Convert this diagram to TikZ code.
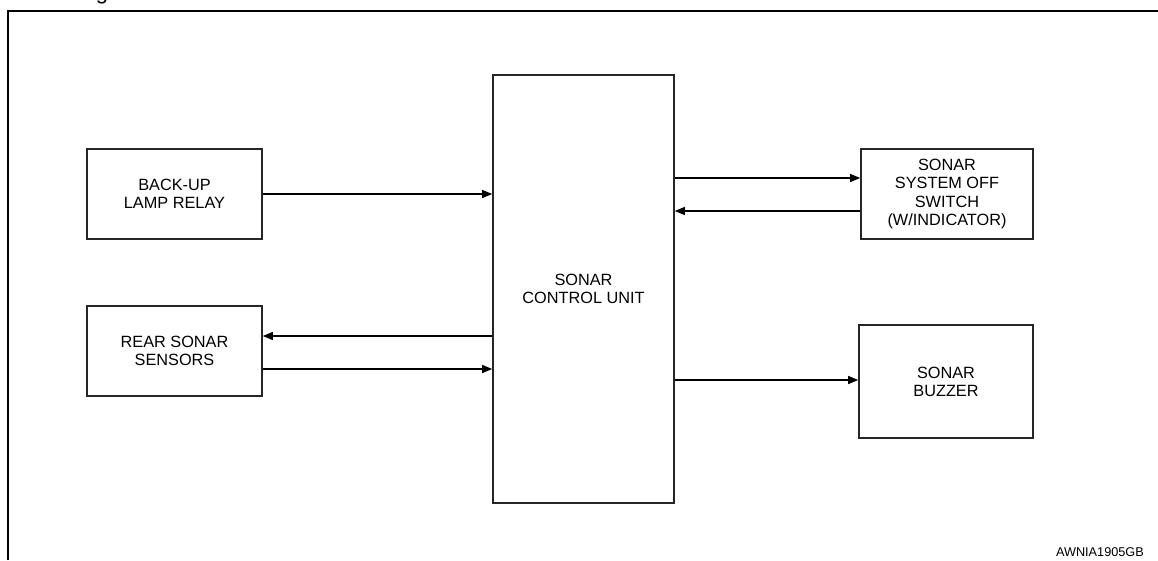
\documentclass[tikz,border=0pt]{standalone}
\usepackage{fontspec}
\setmainfont{Liberation Sans}
\usetikzlibrary{arrows.meta}
\begin{document}
\begin{tikzpicture}[x=1pt,y=-1pt,
  blk/.style={draw=black!85,line width=1.6pt,fill=white,inner sep=0pt,align=center,
    font=\fontsize{16.3}{18.2}\selectfont},
  sig/.style={line width=1.3pt,-{Triangle[length=10pt,width=8pt]}}]
\useasboundingbox (0,0) rectangle (1158,560);
% frame
\draw[line width=2.8pt] (8,560) -- (8,11) -- (1160,11);
\node[anchor=base,inner sep=0pt,font=\fontsize{22}{26}\selectfont] (title) at (102,-1) {g};
% boxes
\node[blk,minimum width=175pt,minimum height=90pt] (relay) at (174.5,194) {BACK-UP\\LAMP RELAY};
\node[blk,minimum width=175pt,minimum height=90pt] (sensors) at (174.5,351) {REAR SONAR\\SENSORS};
\node[blk,minimum width=181pt,minimum height=428pt] (ctrl) at (583.5,289) {SONAR\\CONTROL UNIT};
\node[blk,minimum width=172pt,minimum height=90pt] (switch) at (947,194) {SONAR\\SYSTEM OFF\\SWITCH\\(W/INDICATOR)};
\node[blk,minimum width=174pt,minimum height=113pt] (buzzer) at (946,381.5) {SONAR\\BUZZER};
% connectors
\draw[sig] (relay.east) -- (relay.east -| ctrl.west);
\draw[sig] (ctrl.west |- 0,336) -- (sensors.east |- 0,336);
\draw[sig] (sensors.east |- 0,369) -- (ctrl.west |- 0,369);
\draw[sig] (ctrl.east |- 0,178) -- (switch.west |- 0,178);
\draw[sig] (switch.west |- 0,211) -- (ctrl.east |- 0,211);
\draw[sig] (ctrl.east |- 0,380) -- (buzzer.west |- 0,380);
% code
\node[anchor=base east,inner sep=0pt,font=\fontsize{12.7}{14}\selectfont] (code) at (1144,556) {AWNIA1905GB};
\end{tikzpicture}
\end{document}
